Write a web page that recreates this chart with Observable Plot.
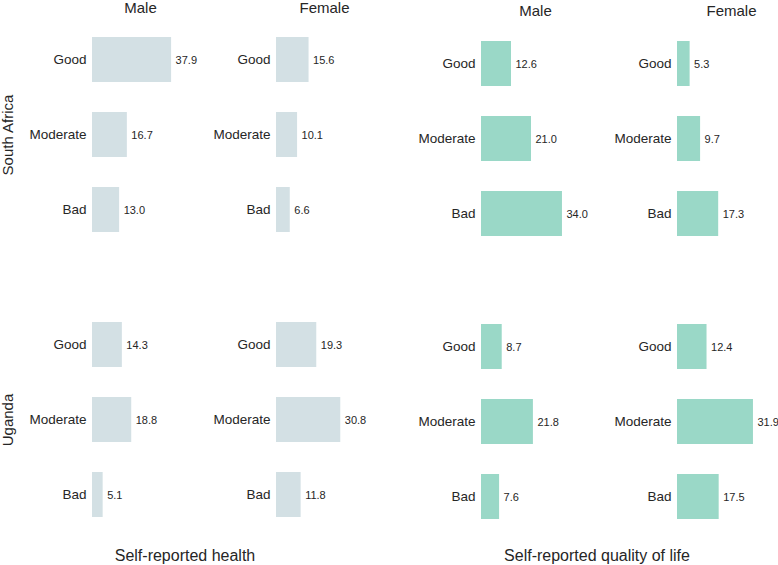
<!DOCTYPE html>
<html>
<head>
<meta charset="utf-8">
<script src="https://cdn.jsdelivr.net/npm/d3@7"></script>
<script src="https://cdn.jsdelivr.net/npm/@observablehq/plot@0.6"></script>
<style>
  html, body { margin: 0; padding: 0; background: #fff; }
  #root { position: relative; width: 778px; height: 565px; overflow: hidden; font-family: "Liberation Sans", Arial, sans-serif; color: #262626; }
  .chart { position: absolute; top: 0; }
  .caption { position: absolute; top: 540px; height: 32px; line-height: 32px; font-size: 16px; text-align: center; }
</style>
</head>
<body>
<div id="root">
  <div class="chart" id="left"></div>
  <div class="chart" id="right"></div>
  <div class="caption" style="left:0;width:370px">Self-reported health</div>
  <div class="caption" style="left:397px;width:400px">Self-reported quality of life</div>
</div>
<script>
const categories = ["Good", "Moderate", "Bad"];
const countries = ["South Africa", "Uganda"];
const sexes = ["Male", "Female"];

// Self-reported health (%)
const healthSAMale = [37.9, 16.7, 13.0];
const healthSAFemale = [15.6, 10.1, 6.6];
const healthUGMale = [14.3, 18.8, 5.1];
const healthUGFemale = [19.3, 30.8, 11.8];

// Self-reported quality of life (%)
const qolSAMale = [12.6, 21.0, 34.0];
const qolSAFemale = [5.3, 9.7, 17.3];
const qolUGMale = [8.7, 21.8, 7.6];
const qolUGFemale = [12.4, 31.9, 17.5];

function rowsFrom(series) {
  const out = [];
  for (const [country, sex, vals] of series) {
    categories.forEach((cat, i) => out.push({country, sex, cat, value: vals[i]}));
  }
  return out;
}

const healthRows = rowsFrom([
  ["South Africa", "Male", healthSAMale],
  ["South Africa", "Female", healthSAFemale],
  ["Uganda", "Male", healthUGMale],
  ["Uganda", "Female", healthUGFemale]
]);
const qolRows = rowsFrom([
  ["South Africa", "Male", qolSAMale],
  ["South Africa", "Female", qolSAFemale],
  ["Uganda", "Male", qolUGMale],
  ["Uganda", "Female", qolUGFemale]
]);

const textColor = "#262626";

function makeChart(rows, cfg) {
  const marks = [
    Plot.barX(rows, {fx: "sex", fy: "country", y: "cat", x: "value", fill: cfg.color}),
    Plot.text(rows, {fx: "sex", fy: "country", y: "cat", x: "value", text: d => d.value.toFixed(1),
      dx: 4, textAnchor: "start", fontSize: 11, fill: textColor}),
    Plot.text(rows, {fx: "sex", fy: "country", y: "cat", frameAnchor: "left", text: "cat",
      dx: -6, textAnchor: "end", fontSize: 13.5, fill: textColor}),
    Plot.text(sexes, {fx: d => d, fy: () => "South Africa", frameAnchor: "top", text: d => d,
      dx: cfg.headerDx, dy: cfg.headerDy, lineAnchor: "bottom", fontSize: 15, fill: textColor})
  ];
  if (cfg.countryLabels) {
    marks.push(Plot.text(countries, {fx: () => "Male", fy: d => d, frameAnchor: "left", text: d => d,
      rotate: -90, dx: -80, textAnchor: "middle", lineAnchor: "bottom", fontSize: 15, fill: textColor}));
  }
  return Plot.plot({
    width: cfg.width,
    height: 540,
    marginLeft: cfg.marginLeft,
    marginRight: cfg.marginRight,
    marginTop: cfg.marginTop,
    marginBottom: cfg.marginBottom,
    style: {fontFamily: '"Liberation Sans", Arial, sans-serif', background: "transparent", overflow: "visible"},
    x: {domain: [0, cfg.xmax], axis: null},
    y: {domain: categories, axis: null, paddingInner: 0.4, paddingOuter: 0.2},
    fx: {domain: sexes, axis: null, paddingInner: cfg.fxPad, paddingOuter: 0},
    fy: {domain: countries, axis: null, paddingInner: cfg.fyPad, paddingOuter: 0},
    marks
  });
}

const left = makeChart(healthRows, {
  width: 395, marginLeft: 92, marginRight: 23, marginTop: 22, marginBottom: 8,
  xmax: 46, fxPad: 88 / 184, fyPad: 60 / 285, color: "#d3e0e4",
  headerDx: 0, headerDy: -10, countryLabels: true
});
const right = makeChart(qolRows, {
  width: 383, marginLeft: 86, marginRight: 1, marginTop: 26, marginBottom: 6,
  xmax: 42, fxPad: 96 / 196, fyPad: 58 / 283, color: "#9ad8c7",
  headerDx: 4, headerDy: -11, countryLabels: false
});
document.getElementById("left").appendChild(left);
const r = document.getElementById("right");
r.style.left = "395px";
r.appendChild(right);
</script>
</body>
</html>
